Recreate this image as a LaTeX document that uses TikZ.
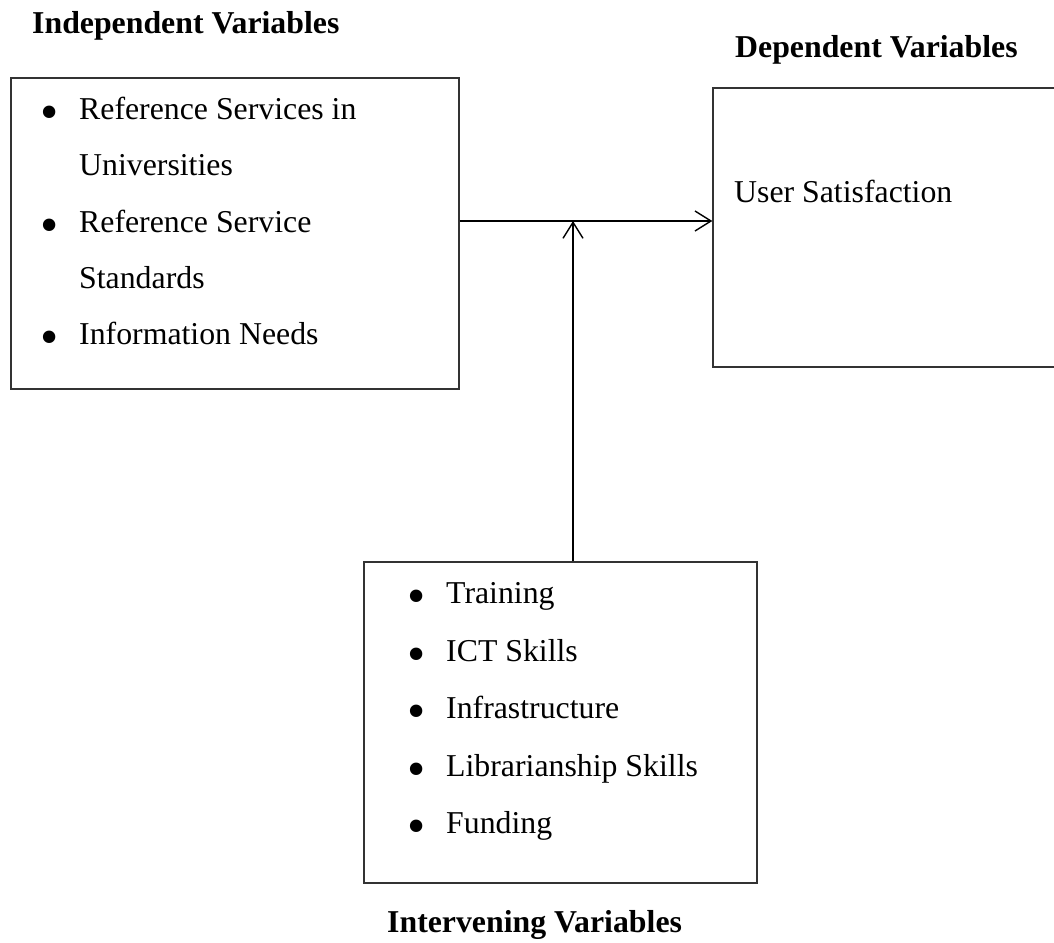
\documentclass[tikz,border=0pt]{standalone}
\usepackage{fontspec}
\setmainfont{Liberation Serif}
\usetikzlibrary{arrows.meta}
\tikzset{
  box/.style={draw=black!80, line width=1.4pt, rectangle, inner sep=0pt},
  txt/.style={anchor=base west, inner sep=0pt, font=\fontsize{31.8}{38}\selectfont},
  ttl/.style={anchor=base west, inner sep=0pt, font=\fontsize{31.8}{38}\selectfont\bfseries},
  bul/.style={anchor=center, inner sep=0pt, font=\fontsize{52}{52}\selectfont},
  arr/.style={line width=1.4pt, -{Straight Barb[length=16pt,width=20pt,line width=1.4pt]}}
}
\begin{document}
\begin{tikzpicture}[x=1pt,y=-1pt]
\useasboundingbox (0,0) rectangle (1054,942);
\clip (0,0) rectangle (1054,942);
% titles
\node[ttl] (tind) at (32,34) {Independent Variables};
\node[ttl] (tdep) at (735,57) {Dependent Variables};
\node[ttl] (tint) at (387,932) {Intervening Variables};
% boxes
\node[box, minimum width=448pt, minimum height=311pt] (ind) at (235,233.5) {};
\node[box, minimum width=387pt, minimum height=279pt] (dep) at (906.5,227.5) {};
\node[box, minimum width=393pt, minimum height=321pt] (int) at (560.5,722.5) {};
% independent items
\node[bul] (b1) at (50,118) {•};
\node[txt] (i1) at (79,119) {Reference Services in};
\node[txt] (i1b) at (79,175) {Universities};
\node[bul] (b2) at (50,231) {•};
\node[txt] (i2) at (79,232) {Reference Service};
\node[txt] (i2b) at (79,288) {Standards};
\node[bul] (b3) at (50,343) {•};
\node[txt] (i3) at (79,344) {Information Needs};
% dependent
\node[txt] (d1) at (734,202) {User Satisfaction};
% intervening items
\node[bul] (c1) at (417,602) {•};
\node[txt] (n1) at (446,603) {Training};
\node[bul] (c2) at (417,660) {•};
\node[txt] (n2) at (446,661) {ICT Skills};
\node[bul] (c3) at (417,717) {•};
\node[txt] (n3) at (446,718) {Infrastructure};
\node[bul] (c4) at (417,775) {•};
\node[txt] (n4) at (446,776) {Librarianship Skills};
\node[bul] (c5) at (417,832) {•};
\node[txt] (n5) at (446,833) {Funding};
% connectors
\coordinate (j) at (573,221);
\draw[arr] (ind.east |- j) -- (dep.west |- j);
\draw[arr] (int.north -| j) -- (j);
\end{tikzpicture}
\end{document}
